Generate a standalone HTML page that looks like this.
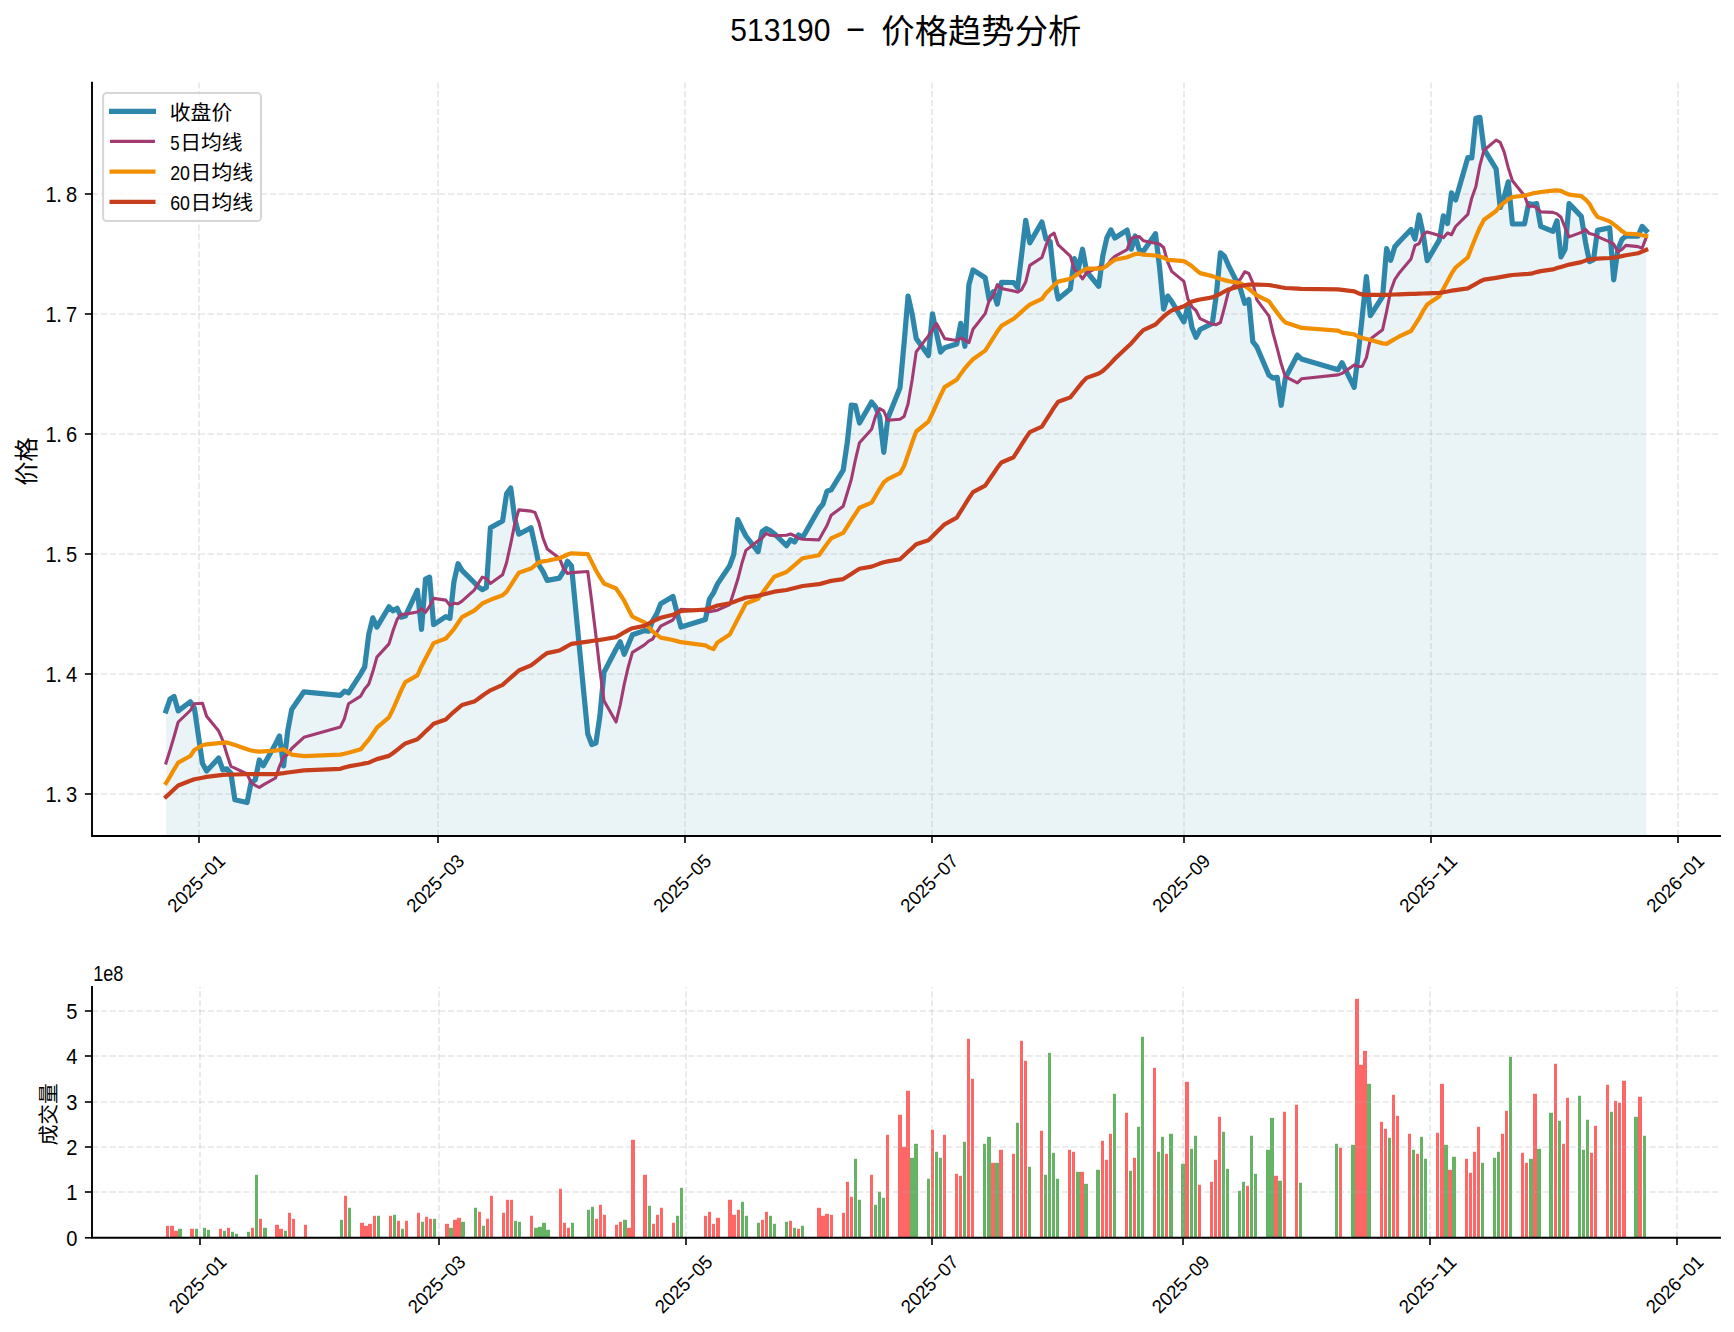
<!DOCTYPE html>
<html lang="zh"><head><meta charset="utf-8"><title>513190 - 价格趋势分析</title>
<style>
html,body{margin:0;padding:0;background:#fff}
svg{display:block}
text{font-family:"Liberation Sans","Noto Sans CJK SC",sans-serif;fill:#000}
.grid line{stroke:#b0b0b0;stroke-opacity:.3;stroke-width:1.67;stroke-dasharray:6.2 2.7;fill:none}
.sp{stroke:#000;stroke-width:1.9;fill:none;stroke-linecap:square}
.tk{stroke:#000;stroke-width:1.6;fill:none}
.ln{fill:none;stroke-linejoin:round;stroke-linecap:square}
.t20{font-size:20.8px}
</style></head><body>
<svg width="1734" height="1332" viewBox="0 0 1734 1332">
<rect width="1734" height="1332" fill="#fff"/>
<polygon points="166.0,710.9 170.1,698.9 174.1,696.6 178.2,710.9 190.3,701.7 194.4,708.2 202.5,763.6 206.6,771.0 218.7,758.1 222.8,769.8 226.8,768.8 230.9,773.3 234.9,799.8 247.1,802.5 251.2,782.0 255.2,780.0 259.3,760.0 263.3,765.7 275.5,744.0 279.5,736.0 283.6,766.0 287.7,731.0 291.7,709.5 303.9,691.8 340.4,695.3 344.4,691.2 348.5,692.9 360.7,673.8 364.7,666.9 368.8,634.0 372.8,617.8 376.9,627.1 389.0,606.8 393.1,610.9 397.2,608.3 401.2,617.2 405.3,616.1 417.4,590.3 421.5,629.4 425.5,579.1 429.6,577.1 433.6,624.7 445.8,616.6 449.9,618.4 453.9,582.0 458.0,563.7 462.0,570.4 474.2,582.5 478.3,586.8 482.3,589.6 486.4,587.5 490.4,527.8 502.6,520.9 506.6,493.7 510.7,487.9 514.8,519.0 518.8,534.2 531.0,527.8 535.0,545.6 539.1,565.4 543.1,571.7 547.2,580.4 559.4,578.1 563.4,571.7 567.5,561.3 571.5,566.0 587.8,734.1 591.8,744.5 595.9,743.1 599.9,716.0 604.0,672.3 616.1,649.0 620.2,641.8 624.2,654.3 628.3,644.5 632.4,634.7 644.5,630.6 648.6,631.2 652.6,620.8 656.7,613.9 660.7,603.7 672.9,596.4 677.0,612.4 681.0,627.0 705.4,619.6 709.4,599.2 713.5,592.9 717.5,583.9 729.7,565.7 733.7,554.7 737.8,519.5 741.9,528.2 745.9,536.0 758.1,551.8 762.1,531.6 766.2,528.7 770.2,530.5 774.3,533.7 786.5,545.7 790.5,539.7 794.6,542.0 798.6,534.9 802.7,537.4 818.9,509.0 823.0,504.0 827.0,491.2 831.1,489.8 843.2,470.2 847.3,442.4 851.3,405.2 855.4,405.7 859.5,423.0 871.6,402.0 875.7,407.2 879.7,417.0 883.8,452.3 887.8,418.2 900.0,387.8 904.1,343.0 908.1,296.0 912.2,314.3 916.2,338.4 928.4,355.6 932.5,313.8 936.5,333.2 940.6,352.1 944.6,347.7 956.8,343.9 960.8,323.3 964.9,346.3 968.9,284.7 973.0,269.9 985.2,277.7 989.2,299.7 993.3,291.6 997.3,304.1 1001.4,282.4 1013.6,282.5 1017.6,287.6 1021.7,254.0 1025.7,220.3 1029.8,242.9 1041.9,222.0 1046.0,239.1 1050.1,241.4 1054.1,279.0 1058.2,299.0 1070.3,289.0 1074.4,258.7 1078.4,268.6 1082.5,249.2 1086.6,271.5 1098.7,286.3 1102.8,255.9 1106.8,238.0 1110.9,229.9 1114.9,238.0 1127.1,230.1 1131.2,249.2 1135.2,235.9 1139.3,250.1 1143.3,251.3 1155.5,233.7 1159.5,266.6 1163.6,309.1 1167.7,296.1 1171.7,301.5 1183.9,321.8 1187.9,305.5 1192.0,327.5 1196.0,337.3 1200.1,329.5 1212.3,323.4 1216.3,295.0 1220.4,252.9 1224.4,256.0 1228.5,265.5 1240.7,289.7 1244.7,303.3 1248.8,299.5 1252.8,341.7 1256.9,346.9 1269.0,375.2 1273.1,378.1 1277.2,377.3 1281.2,405.3 1285.3,378.1 1297.4,355.0 1301.5,359.0 1338.0,369.7 1342.0,362.7 1354.2,387.3 1358.3,353.0 1362.3,316.0 1366.4,276.5 1370.4,315.7 1382.6,296.5 1386.6,248.6 1390.7,260.3 1394.8,246.8 1398.8,242.2 1411.0,229.5 1415.0,239.1 1419.1,215.0 1423.1,233.8 1427.2,260.7 1439.4,239.9 1443.4,215.8 1447.5,223.5 1451.5,192.8 1455.6,200.0 1467.8,157.6 1471.8,158.0 1475.9,118.3 1479.9,117.3 1484.0,149.1 1496.1,168.8 1500.2,207.5 1504.2,196.8 1508.3,181.8 1512.4,224.0 1524.5,224.0 1528.6,203.5 1532.6,204.6 1536.7,203.6 1540.7,226.3 1552.9,231.4 1557.0,220.8 1561.0,256.9 1565.1,249.2 1569.1,203.6 1581.3,216.4 1585.4,241.7 1589.4,261.6 1593.5,259.6 1597.5,230.4 1609.7,227.8 1613.7,279.8 1617.8,249.8 1621.9,239.4 1625.9,236.1 1638.1,236.1 1642.1,226.4 1646.2,230.7 1646.2,836.0 166.0,836.0" fill="#2E86AB" fill-opacity="0.1"/>
<g class="grid">
<line x1="199.0" y1="836.0" x2="199.0" y2="82.8"/>
<line x1="438.0" y1="836.0" x2="438.0" y2="82.8"/>
<line x1="685.0" y1="836.0" x2="685.0" y2="82.8"/>
<line x1="932.0" y1="836.0" x2="932.0" y2="82.8"/>
<line x1="1184.0" y1="836.0" x2="1184.0" y2="82.8"/>
<line x1="1431.0" y1="836.0" x2="1431.0" y2="82.8"/>
<line x1="1678.0" y1="836.0" x2="1678.0" y2="82.8"/>
<line x1="92.0" y1="794" x2="1720.0" y2="794"/>
<line x1="92.0" y1="674" x2="1720.0" y2="674"/>
<line x1="92.0" y1="554" x2="1720.0" y2="554"/>
<line x1="92.0" y1="434" x2="1720.0" y2="434"/>
<line x1="92.0" y1="314" x2="1720.0" y2="314"/>
<line x1="92.0" y1="194" x2="1720.0" y2="194"/>
</g>
<polyline class="ln" points="166.0,710.9 170.1,698.9 174.1,696.6 178.2,710.9 190.3,701.7 194.4,708.2 202.5,763.6 206.6,771.0 218.7,758.1 222.8,769.8 226.8,768.8 230.9,773.3 234.9,799.8 247.1,802.5 251.2,782.0 255.2,780.0 259.3,760.0 263.3,765.7 275.5,744.0 279.5,736.0 283.6,766.0 287.7,731.0 291.7,709.5 303.9,691.8 340.4,695.3 344.4,691.2 348.5,692.9 360.7,673.8 364.7,666.9 368.8,634.0 372.8,617.8 376.9,627.1 389.0,606.8 393.1,610.9 397.2,608.3 401.2,617.2 405.3,616.1 417.4,590.3 421.5,629.4 425.5,579.1 429.6,577.1 433.6,624.7 445.8,616.6 449.9,618.4 453.9,582.0 458.0,563.7 462.0,570.4 474.2,582.5 478.3,586.8 482.3,589.6 486.4,587.5 490.4,527.8 502.6,520.9 506.6,493.7 510.7,487.9 514.8,519.0 518.8,534.2 531.0,527.8 535.0,545.6 539.1,565.4 543.1,571.7 547.2,580.4 559.4,578.1 563.4,571.7 567.5,561.3 571.5,566.0 587.8,734.1 591.8,744.5 595.9,743.1 599.9,716.0 604.0,672.3 616.1,649.0 620.2,641.8 624.2,654.3 628.3,644.5 632.4,634.7 644.5,630.6 648.6,631.2 652.6,620.8 656.7,613.9 660.7,603.7 672.9,596.4 677.0,612.4 681.0,627.0 705.4,619.6 709.4,599.2 713.5,592.9 717.5,583.9 729.7,565.7 733.7,554.7 737.8,519.5 741.9,528.2 745.9,536.0 758.1,551.8 762.1,531.6 766.2,528.7 770.2,530.5 774.3,533.7 786.5,545.7 790.5,539.7 794.6,542.0 798.6,534.9 802.7,537.4 818.9,509.0 823.0,504.0 827.0,491.2 831.1,489.8 843.2,470.2 847.3,442.4 851.3,405.2 855.4,405.7 859.5,423.0 871.6,402.0 875.7,407.2 879.7,417.0 883.8,452.3 887.8,418.2 900.0,387.8 904.1,343.0 908.1,296.0 912.2,314.3 916.2,338.4 928.4,355.6 932.5,313.8 936.5,333.2 940.6,352.1 944.6,347.7 956.8,343.9 960.8,323.3 964.9,346.3 968.9,284.7 973.0,269.9 985.2,277.7 989.2,299.7 993.3,291.6 997.3,304.1 1001.4,282.4 1013.6,282.5 1017.6,287.6 1021.7,254.0 1025.7,220.3 1029.8,242.9 1041.9,222.0 1046.0,239.1 1050.1,241.4 1054.1,279.0 1058.2,299.0 1070.3,289.0 1074.4,258.7 1078.4,268.6 1082.5,249.2 1086.6,271.5 1098.7,286.3 1102.8,255.9 1106.8,238.0 1110.9,229.9 1114.9,238.0 1127.1,230.1 1131.2,249.2 1135.2,235.9 1139.3,250.1 1143.3,251.3 1155.5,233.7 1159.5,266.6 1163.6,309.1 1167.7,296.1 1171.7,301.5 1183.9,321.8 1187.9,305.5 1192.0,327.5 1196.0,337.3 1200.1,329.5 1212.3,323.4 1216.3,295.0 1220.4,252.9 1224.4,256.0 1228.5,265.5 1240.7,289.7 1244.7,303.3 1248.8,299.5 1252.8,341.7 1256.9,346.9 1269.0,375.2 1273.1,378.1 1277.2,377.3 1281.2,405.3 1285.3,378.1 1297.4,355.0 1301.5,359.0 1338.0,369.7 1342.0,362.7 1354.2,387.3 1358.3,353.0 1362.3,316.0 1366.4,276.5 1370.4,315.7 1382.6,296.5 1386.6,248.6 1390.7,260.3 1394.8,246.8 1398.8,242.2 1411.0,229.5 1415.0,239.1 1419.1,215.0 1423.1,233.8 1427.2,260.7 1439.4,239.9 1443.4,215.8 1447.5,223.5 1451.5,192.8 1455.6,200.0 1467.8,157.6 1471.8,158.0 1475.9,118.3 1479.9,117.3 1484.0,149.1 1496.1,168.8 1500.2,207.5 1504.2,196.8 1508.3,181.8 1512.4,224.0 1524.5,224.0 1528.6,203.5 1532.6,204.6 1536.7,203.6 1540.7,226.3 1552.9,231.4 1557.0,220.8 1561.0,256.9 1565.1,249.2 1569.1,203.6 1581.3,216.4 1585.4,241.7 1589.4,261.6 1593.5,259.6 1597.5,230.4 1609.7,227.8 1613.7,279.8 1617.8,249.8 1621.9,239.4 1625.9,236.1 1638.1,236.1 1642.1,226.4 1646.2,230.7" stroke="#2E86AB" stroke-width="5.2"/>
<polyline class="ln" points="166.0,763.0 170.1,750.0 174.1,736.5 178.2,722.0 190.3,710.5 194.4,703.8 202.5,703.3 206.6,716.2 218.7,731.1 222.8,740.5 226.8,754.1 230.9,766.3 234.9,768.2 247.1,774.0 251.2,782.8 255.2,785.3 259.3,787.5 263.3,784.9 275.5,778.0 279.5,766.3 283.6,757.1 287.7,754.3 291.7,748.5 303.9,737.3 340.4,726.9 344.4,718.7 348.5,703.8 360.7,696.1 364.7,689.0 368.8,684.0 372.8,671.8 376.9,657.1 389.0,643.9 393.1,630.5 397.2,619.3 401.2,614.2 405.3,614.1 417.4,611.9 421.5,608.6 425.5,612.3 429.6,606.4 433.6,598.4 445.8,600.1 449.9,605.4 453.9,603.2 458.0,603.8 462.0,601.1 474.2,590.2 478.3,583.4 482.3,577.1 486.4,578.6 490.4,583.4 502.6,574.8 506.6,562.5 510.7,543.9 514.8,523.6 518.8,509.9 531.0,511.1 535.0,512.5 539.1,522.9 543.1,538.4 547.2,548.9 559.4,558.2 563.4,568.2 567.5,573.5 571.5,572.6 587.8,571.5 591.8,602.2 595.9,635.5 599.9,669.8 604.0,700.7 616.1,722.0 620.2,705.0 624.2,684.4 628.3,666.7 632.4,652.4 644.5,644.9 648.6,641.2 652.6,639.1 656.7,632.4 660.7,626.2 672.9,620.0 677.0,613.2 681.0,609.4 705.4,610.7 709.4,611.8 713.5,610.9 717.5,610.2 729.7,604.5 733.7,592.3 737.8,579.3 741.9,563.3 745.9,550.4 758.1,540.8 762.1,538.0 766.2,533.4 770.2,535.3 774.3,535.7 786.5,535.3 790.5,534.0 794.6,535.7 798.6,538.3 802.7,539.2 818.9,539.9 823.0,532.6 827.0,525.5 831.1,515.3 843.2,506.3 847.3,492.8 851.3,479.5 855.4,459.8 859.5,442.7 871.6,429.3 875.7,415.7 879.7,408.6 883.8,411.0 887.8,420.3 900.0,419.3 904.1,416.5 908.1,403.7 912.2,379.5 916.2,351.9 928.4,335.9 932.5,329.5 936.5,323.6 940.6,331.1 944.6,338.6 956.8,340.5 960.8,338.1 964.9,340.0 968.9,342.7 973.0,329.2 985.2,313.6 989.2,300.4 993.3,295.7 997.3,284.7 1001.4,288.6 1013.6,291.1 1017.6,292.1 1021.7,289.6 1025.7,282.1 1029.8,265.4 1041.9,257.5 1046.0,245.4 1050.1,235.7 1054.1,233.1 1058.2,244.9 1070.3,256.1 1074.4,269.5 1078.4,273.4 1082.5,278.9 1086.6,272.9 1098.7,267.4 1102.8,266.9 1106.8,266.3 1110.9,260.2 1114.9,256.3 1127.1,249.6 1131.2,238.4 1135.2,237.0 1139.3,236.6 1143.3,240.7 1155.5,243.3 1159.5,244.0 1163.6,247.5 1167.7,262.2 1171.7,271.4 1183.9,281.4 1187.9,299.0 1192.0,306.8 1196.0,310.5 1200.1,318.7 1212.3,324.3 1216.3,324.6 1220.4,322.5 1224.4,307.6 1228.5,291.4 1240.7,278.6 1244.7,271.8 1248.8,273.5 1252.8,282.8 1256.9,299.9 1269.0,316.2 1273.1,333.3 1277.2,348.3 1281.2,363.8 1285.3,376.6 1297.4,382.8 1301.5,378.8 1338.0,374.9 1342.0,373.4 1354.2,364.9 1358.3,366.7 1362.3,366.3 1366.4,357.7 1370.4,339.1 1382.6,329.7 1386.6,311.5 1390.7,290.7 1394.8,279.5 1398.8,273.6 1411.0,258.9 1415.0,245.5 1419.1,243.6 1423.1,234.5 1427.2,231.9 1439.4,235.6 1443.4,237.7 1447.5,233.0 1451.5,234.7 1455.6,226.5 1467.8,214.4 1471.8,197.9 1475.9,186.4 1479.9,165.3 1484.0,150.2 1496.1,140.1 1500.2,142.3 1504.2,152.2 1508.3,167.9 1512.4,180.8 1524.5,195.8 1528.6,206.8 1532.6,206.0 1536.7,207.6 1540.7,211.9 1552.9,212.4 1557.0,213.9 1561.0,217.3 1565.1,227.8 1569.1,236.9 1581.3,232.4 1585.4,229.4 1589.4,233.6 1593.5,234.5 1597.5,236.6 1609.7,241.9 1613.7,244.2 1617.8,251.8 1621.9,249.5 1625.9,245.4 1638.1,246.6 1642.1,248.2 1646.2,237.6" stroke="#A23B72" stroke-width="3.1"/>
<polyline class="ln" points="166.0,783.1 170.1,776.4 174.1,769.3 178.2,762.7 190.3,756.0 194.4,750.0 202.5,745.2 206.6,744.3 218.7,743.2 222.8,742.8 226.8,742.4 230.9,743.8 234.9,745.1 247.1,749.2 251.2,750.5 255.2,751.1 259.3,751.6 263.3,751.4 275.5,750.6 279.5,750.0 283.6,749.3 287.7,751.9 291.7,754.6 303.9,756.2 340.4,754.6 344.4,753.8 348.5,752.8 360.7,749.3 364.7,744.4 368.8,739.6 372.8,733.7 376.9,727.7 389.0,717.4 393.1,709.0 397.2,699.6 401.2,690.3 405.3,682.1 417.4,675.3 421.5,666.2 425.5,658.5 429.6,650.7 433.6,643.1 445.8,638.5 449.9,633.9 453.9,629.2 458.0,623.0 462.0,617.1 474.2,610.7 478.3,607.1 482.3,603.5 486.4,601.6 490.4,599.8 502.6,595.2 506.6,591.6 510.7,585.3 514.8,578.9 518.8,572.8 531.0,568.6 535.0,565.4 539.1,562.1 543.1,561.4 547.2,560.7 559.4,558.2 563.4,556.5 567.5,554.5 571.5,553.3 587.8,554.1 591.8,562.1 595.9,570.2 599.9,577.2 604.0,583.5 616.1,588.5 620.2,594.5 624.2,600.7 628.3,609.0 632.4,616.7 644.5,622.4 648.6,626.9 652.6,631.4 656.7,634.6 660.7,637.6 672.9,640.0 677.0,641.1 681.0,642.2 705.4,645.3 709.4,647.6 713.5,649.1 717.5,642.4 729.7,634.6 733.7,626.9 737.8,619.1 741.9,611.3 745.9,603.5 758.1,598.7 762.1,593.2 766.2,587.7 770.2,582.2 774.3,576.7 786.5,572.0 790.5,568.6 794.6,565.1 798.6,561.6 802.7,558.2 818.9,555.2 823.0,549.5 827.0,543.9 831.1,538.4 843.2,532.8 847.3,526.5 851.3,520.2 855.4,513.9 859.5,507.7 871.6,502.6 875.7,495.7 879.7,488.8 883.8,482.4 887.8,479.1 900.0,473.2 904.1,466.0 908.1,454.4 912.2,442.3 916.2,431.5 928.4,421.6 932.5,413.2 936.5,404.2 940.6,395.2 944.6,387.1 956.8,379.6 960.8,373.9 964.9,368.3 968.9,363.6 973.0,359.3 985.2,350.6 989.2,344.3 993.3,337.9 997.3,331.6 1001.4,325.9 1013.6,318.8 1017.6,315.3 1021.7,311.6 1025.7,308.0 1029.8,304.7 1041.9,298.9 1046.0,293.3 1050.1,289.2 1054.1,285.1 1058.2,281.6 1070.3,278.7 1074.4,276.2 1078.4,273.5 1082.5,270.8 1086.6,268.6 1098.7,268.6 1102.8,268.2 1106.8,265.7 1110.9,262.5 1114.9,259.8 1127.1,257.3 1131.2,255.6 1135.2,254.0 1139.3,253.7 1143.3,254.7 1155.5,255.5 1159.5,256.4 1163.6,257.7 1167.7,259.9 1171.7,260.1 1183.9,261.1 1187.9,263.5 1192.0,266.2 1196.0,269.9 1200.1,273.1 1212.3,276.1 1216.3,277.6 1220.4,278.9 1224.4,280.1 1228.5,281.1 1240.7,283.2 1244.7,285.9 1248.8,288.6 1252.8,292.2 1256.9,295.3 1269.0,301.4 1273.1,307.2 1277.2,312.8 1281.2,318.1 1285.3,322.4 1297.4,326.5 1301.5,327.9 1338.0,330.7 1342.0,332.6 1354.2,334.4 1358.3,336.8 1362.3,337.9 1366.4,339.0 1370.4,340.1 1382.6,343.4 1386.6,343.9 1390.7,341.4 1394.8,339.0 1398.8,336.7 1411.0,331.0 1415.0,324.9 1419.1,318.4 1423.1,310.9 1427.2,304.6 1439.4,296.3 1443.4,288.8 1447.5,281.2 1451.5,273.7 1455.6,267.5 1467.8,257.4 1471.8,247.0 1475.9,236.8 1479.9,227.4 1484.0,219.8 1496.1,211.0 1500.2,205.7 1504.2,202.6 1508.3,199.4 1512.4,197.0 1524.5,195.7 1528.6,194.5 1532.6,193.4 1536.7,192.7 1540.7,192.0 1552.9,190.6 1557.0,190.4 1561.0,190.9 1565.1,193.0 1569.1,194.6 1581.3,196.1 1585.4,199.3 1589.4,203.7 1593.5,211.3 1597.5,216.9 1609.7,221.4 1613.7,224.4 1617.8,227.5 1621.9,231.1 1625.9,233.7 1638.1,234.4 1642.1,235.2 1646.2,235.9" stroke="#F18F01" stroke-width="4.2"/>
<polyline class="ln" points="166.0,796.8 170.1,793.1 174.1,789.3 178.2,785.5 190.3,780.7 194.4,779.2 202.5,777.7 206.6,776.9 218.7,775.4 222.8,774.9 226.8,774.7 230.9,774.6 234.9,774.5 247.1,774.1 251.2,774.1 255.2,774.1 259.3,774.1 263.3,774.1 275.5,774.1 279.5,773.6 283.6,773.1 287.7,772.5 291.7,772.0 303.9,770.4 340.4,768.8 344.4,767.6 348.5,766.4 360.7,764.2 364.7,763.4 368.8,762.7 372.8,760.9 376.9,759.1 389.0,755.9 393.1,753.0 397.2,749.8 401.2,746.6 405.3,743.4 417.4,739.3 421.5,735.4 425.5,731.6 429.6,727.7 433.6,723.8 445.8,719.5 449.9,715.5 453.9,711.8 458.0,708.4 462.0,705.0 474.2,701.6 478.3,698.7 482.3,695.8 486.4,692.9 490.4,690.3 502.6,684.9 506.6,681.3 510.7,677.7 514.8,674.1 518.8,670.5 531.0,665.4 535.0,662.3 539.1,659.1 543.1,655.9 547.2,653.1 559.4,650.5 563.4,648.3 567.5,646.0 571.5,643.9 587.8,641.6 591.8,641.0 595.9,640.4 599.9,639.9 604.0,639.2 616.1,637.1 620.2,634.7 624.2,632.3 628.3,630.1 632.4,628.2 644.5,625.9 648.6,623.6 652.6,621.3 656.7,619.5 660.7,617.8 672.9,614.8 677.0,612.8 681.0,611.0 705.4,609.7 709.4,608.3 713.5,606.9 717.5,605.5 729.7,603.3 733.7,601.9 737.8,600.4 741.9,599.0 745.9,597.5 758.1,595.8 762.1,594.8 766.2,593.8 770.2,592.7 774.3,591.7 786.5,590.0 790.5,589.0 794.6,588.0 798.6,587.0 802.7,586.0 818.9,584.2 823.0,583.1 827.0,582.0 831.1,580.9 843.2,579.1 847.3,576.5 851.3,573.9 855.4,571.3 859.5,568.7 871.6,566.6 875.7,565.1 879.7,563.6 883.8,562.2 887.8,561.4 900.0,559.2 904.1,555.5 908.1,551.8 912.2,548.1 916.2,544.3 928.4,540.3 932.5,536.3 936.5,532.2 940.6,528.2 944.6,524.3 956.8,517.7 960.8,511.2 964.9,504.7 968.9,498.2 973.0,492.1 985.2,485.6 989.2,479.7 993.3,473.8 997.3,467.8 1001.4,462.5 1013.6,457.2 1017.6,450.8 1021.7,444.4 1025.7,438.1 1029.8,432.1 1041.9,426.6 1046.0,420.2 1050.1,413.8 1054.1,407.4 1058.2,401.8 1070.3,397.4 1074.4,392.3 1078.4,387.2 1082.5,382.1 1086.6,377.9 1098.7,373.5 1102.8,370.9 1106.8,367.3 1110.9,363.1 1114.9,358.8 1127.1,347.3 1131.2,343.4 1135.2,338.8 1139.3,334.2 1143.3,330.1 1155.5,324.5 1159.5,320.5 1163.6,316.5 1167.7,313.2 1171.7,310.4 1183.9,306.3 1187.9,303.8 1192.0,301.5 1196.0,300.4 1200.1,299.5 1212.3,297.4 1216.3,295.7 1220.4,293.8 1224.4,291.5 1228.5,289.4 1240.7,286.0 1244.7,285.2 1248.8,284.5 1252.8,284.6 1256.9,284.6 1269.0,285.0 1273.1,285.8 1277.2,286.5 1281.2,287.3 1285.3,288.0 1297.4,288.6 1301.5,288.8 1338.0,289.3 1342.0,289.8 1354.2,291.4 1358.3,293.2 1362.3,294.6 1366.4,294.8 1370.4,294.9 1382.6,294.8 1386.6,294.8 1390.7,294.6 1394.8,294.5 1398.8,294.3 1411.0,293.9 1415.0,293.8 1419.1,293.6 1423.1,293.5 1427.2,293.4 1439.4,292.9 1443.4,292.2 1447.5,291.5 1451.5,290.7 1455.6,290.1 1467.8,288.4 1471.8,286.1 1475.9,283.8 1479.9,281.5 1484.0,279.6 1496.1,277.8 1500.2,277.1 1504.2,276.4 1508.3,275.6 1512.4,275.0 1524.5,274.1 1528.6,273.8 1532.6,273.3 1536.7,272.1 1540.7,271.1 1552.9,269.4 1557.0,268.1 1561.0,266.9 1565.1,265.7 1569.1,264.6 1581.3,262.1 1585.4,260.6 1589.4,259.5 1593.5,259.1 1597.5,258.7 1609.7,258.0 1613.7,257.6 1617.8,257.0 1621.9,256.1 1625.9,255.3 1638.1,253.3 1642.1,251.6 1646.2,249.8" stroke="#C73E1D" stroke-width="4.2"/>
<path class="sp" d="M92.0,82.8 V836.0 H1720.0"/>
<line class="tk" x1="199.0" y1="836.0" x2="199.0" y2="843.0"/>
<text transform="translate(195.7,883.5) rotate(-45)" style="font-size:19px"><tspan x="-35.6" y="6.8" textLength="41.2" lengthAdjust="spacingAndGlyphs">2025</tspan><tspan x="5.6" y="5.3" textLength="11" lengthAdjust="spacingAndGlyphs">-</tspan><tspan x="16.4" y="6.8" textLength="20.4" lengthAdjust="spacingAndGlyphs">01</tspan></text>
<line class="tk" x1="438.0" y1="836.0" x2="438.0" y2="843.0"/>
<text transform="translate(434.7,883.5) rotate(-45)" style="font-size:19px"><tspan x="-35.6" y="6.8" textLength="41.2" lengthAdjust="spacingAndGlyphs">2025</tspan><tspan x="5.6" y="5.3" textLength="11" lengthAdjust="spacingAndGlyphs">-</tspan><tspan x="16.4" y="6.8" textLength="20.4" lengthAdjust="spacingAndGlyphs">03</tspan></text>
<line class="tk" x1="685.0" y1="836.0" x2="685.0" y2="843.0"/>
<text transform="translate(681.7,883.5) rotate(-45)" style="font-size:19px"><tspan x="-35.6" y="6.8" textLength="41.2" lengthAdjust="spacingAndGlyphs">2025</tspan><tspan x="5.6" y="5.3" textLength="11" lengthAdjust="spacingAndGlyphs">-</tspan><tspan x="16.4" y="6.8" textLength="20.4" lengthAdjust="spacingAndGlyphs">05</tspan></text>
<line class="tk" x1="932.0" y1="836.0" x2="932.0" y2="843.0"/>
<text transform="translate(928.7,883.5) rotate(-45)" style="font-size:19px"><tspan x="-35.6" y="6.8" textLength="41.2" lengthAdjust="spacingAndGlyphs">2025</tspan><tspan x="5.6" y="5.3" textLength="11" lengthAdjust="spacingAndGlyphs">-</tspan><tspan x="16.4" y="6.8" textLength="20.4" lengthAdjust="spacingAndGlyphs">07</tspan></text>
<line class="tk" x1="1184.0" y1="836.0" x2="1184.0" y2="843.0"/>
<text transform="translate(1180.7,883.5) rotate(-45)" style="font-size:19px"><tspan x="-35.6" y="6.8" textLength="41.2" lengthAdjust="spacingAndGlyphs">2025</tspan><tspan x="5.6" y="5.3" textLength="11" lengthAdjust="spacingAndGlyphs">-</tspan><tspan x="16.4" y="6.8" textLength="20.4" lengthAdjust="spacingAndGlyphs">09</tspan></text>
<line class="tk" x1="1431.0" y1="836.0" x2="1431.0" y2="843.0"/>
<text transform="translate(1427.7,883.5) rotate(-45)" style="font-size:19px"><tspan x="-35.6" y="6.8" textLength="41.2" lengthAdjust="spacingAndGlyphs">2025</tspan><tspan x="5.6" y="5.3" textLength="11" lengthAdjust="spacingAndGlyphs">-</tspan><tspan x="16.4" y="6.8" textLength="20.4" lengthAdjust="spacingAndGlyphs">11</tspan></text>
<line class="tk" x1="1678.0" y1="836.0" x2="1678.0" y2="843.0"/>
<text transform="translate(1674.7,883.5) rotate(-45)" style="font-size:19px"><tspan x="-35.6" y="6.8" textLength="41.2" lengthAdjust="spacingAndGlyphs">2026</tspan><tspan x="5.6" y="5.3" textLength="11" lengthAdjust="spacingAndGlyphs">-</tspan><tspan x="16.4" y="6.8" textLength="20.4" lengthAdjust="spacingAndGlyphs">01</tspan></text>
<line class="tk" x1="84.9" y1="794" x2="92.0" y2="794"/>
<text style="font-size:22px" y="802.1"><tspan x="45.6" textLength="11.2" lengthAdjust="spacingAndGlyphs">1</tspan><tspan x="56.0">.</tspan><tspan x="66.0" textLength="11.2" lengthAdjust="spacingAndGlyphs">3</tspan></text>
<line class="tk" x1="84.9" y1="674" x2="92.0" y2="674"/>
<text style="font-size:22px" y="682.1"><tspan x="45.6" textLength="11.2" lengthAdjust="spacingAndGlyphs">1</tspan><tspan x="56.0">.</tspan><tspan x="66.0" textLength="11.2" lengthAdjust="spacingAndGlyphs">4</tspan></text>
<line class="tk" x1="84.9" y1="554" x2="92.0" y2="554"/>
<text style="font-size:22px" y="562.1"><tspan x="45.6" textLength="11.2" lengthAdjust="spacingAndGlyphs">1</tspan><tspan x="56.0">.</tspan><tspan x="66.0" textLength="11.2" lengthAdjust="spacingAndGlyphs">5</tspan></text>
<line class="tk" x1="84.9" y1="434" x2="92.0" y2="434"/>
<text style="font-size:22px" y="442.1"><tspan x="45.6" textLength="11.2" lengthAdjust="spacingAndGlyphs">1</tspan><tspan x="56.0">.</tspan><tspan x="66.0" textLength="11.2" lengthAdjust="spacingAndGlyphs">6</tspan></text>
<line class="tk" x1="84.9" y1="314" x2="92.0" y2="314"/>
<text style="font-size:22px" y="322.1"><tspan x="45.6" textLength="11.2" lengthAdjust="spacingAndGlyphs">1</tspan><tspan x="56.0">.</tspan><tspan x="66.0" textLength="11.2" lengthAdjust="spacingAndGlyphs">7</tspan></text>
<line class="tk" x1="84.9" y1="194" x2="92.0" y2="194"/>
<text style="font-size:22px" y="202.1"><tspan x="45.6" textLength="11.2" lengthAdjust="spacingAndGlyphs">1</tspan><tspan x="56.0">.</tspan><tspan x="66.0" textLength="11.2" lengthAdjust="spacingAndGlyphs">8</tspan></text>
<text transform="translate(26.2,461.4) rotate(-90)" text-anchor="middle" y="9" style="font-size:24.3px">价格</text>
<text y="43" style="font-size:33.3px"><tspan x="730.2" y="41.3" style="font-size:31.7px" textLength="100.4" lengthAdjust="spacingAndGlyphs">513190</tspan> <tspan x="844.7" y="38.8" textLength="21.6" lengthAdjust="spacingAndGlyphs">-</tspan> <tspan x="881.3" y="43" textLength="200" lengthAdjust="spacingAndGlyphs">价格趋势分析</tspan></text>
<rect x="103.1" y="93.1" width="157.9" height="127.9" rx="3.6" ry="3.6" fill="#fff" fill-opacity="0.8" stroke="#ccc" stroke-opacity="0.8" stroke-width="2"/>
<line x1="111.6" y1="111.3" x2="153.4" y2="111.3" stroke="#2E86AB" stroke-width="5.2" stroke-linecap="square"/>
<text class="t20" x="169.8" y="119.6" textLength="62.4" lengthAdjust="spacingAndGlyphs">收盘价</text>
<line x1="111.6" y1="141.4" x2="153.4" y2="141.4" stroke="#A23B72" stroke-width="3.1" stroke-linecap="square"/>
<text class="t20" y="149.7"><tspan x="170.2" textLength="9.4" lengthAdjust="spacingAndGlyphs">5</tspan><tspan x="180.2" textLength="62.4" lengthAdjust="spacingAndGlyphs">日均线</tspan></text>
<line x1="111.6" y1="171.7" x2="153.4" y2="171.7" stroke="#F18F01" stroke-width="4.2" stroke-linecap="square"/>
<text class="t20" y="180.0"><tspan x="170.2" textLength="19.8" lengthAdjust="spacingAndGlyphs">20</tspan><tspan x="190.6" textLength="62.4" lengthAdjust="spacingAndGlyphs">日均线</tspan></text>
<line x1="111.6" y1="201.8" x2="153.4" y2="201.8" stroke="#C73E1D" stroke-width="4.2" stroke-linecap="square"/>
<text class="t20" y="210.1"><tspan x="170.2" textLength="19.8" lengthAdjust="spacingAndGlyphs">60</tspan><tspan x="190.6" textLength="62.4" lengthAdjust="spacingAndGlyphs">日均线</tspan></text>
<rect x="166" y="1225.8" width="3" height="12" fill="#FF6666"/>
<rect x="170" y="1225.8" width="4" height="12" fill="#FF6666"/>
<rect x="174" y="1230.8" width="4" height="7" fill="#FF6666"/>
<rect x="178" y="1228.8" width="4" height="9" fill="#66B366"/>
<rect x="190" y="1228.8" width="4" height="9" fill="#FF6666"/>
<rect x="195" y="1228.8" width="3" height="9" fill="#66B366"/>
<rect x="203" y="1227.8" width="3" height="10" fill="#66B366"/>
<rect x="207" y="1229.8" width="3" height="8" fill="#66B366"/>
<rect x="219" y="1228.8" width="3" height="9" fill="#FF6666"/>
<rect x="223" y="1230.8" width="3" height="7" fill="#66B366"/>
<rect x="227" y="1227.8" width="3" height="10" fill="#FF6666"/>
<rect x="231" y="1231.8" width="3" height="6" fill="#66B366"/>
<rect x="235" y="1233.8" width="3" height="4" fill="#66B366"/>
<rect x="247" y="1231.8" width="3" height="6" fill="#66B366"/>
<rect x="251" y="1227.8" width="3" height="10" fill="#FF6666"/>
<rect x="255" y="1174.8" width="3" height="63" fill="#66B366"/>
<rect x="259" y="1218.8" width="3" height="19" fill="#FF6666"/>
<rect x="263" y="1227.8" width="4" height="10" fill="#66B366"/>
<rect x="275" y="1224.8" width="4" height="13" fill="#FF6666"/>
<rect x="279" y="1228.8" width="4" height="9" fill="#FF6666"/>
<rect x="284" y="1230.8" width="3" height="7" fill="#66B366"/>
<rect x="288" y="1212.8" width="3" height="25" fill="#FF6666"/>
<rect x="292" y="1218.8" width="3" height="19" fill="#FF6666"/>
<rect x="304" y="1224.8" width="3" height="13" fill="#FF6666"/>
<rect x="340" y="1219.8" width="3" height="18" fill="#66B366"/>
<rect x="344" y="1195.8" width="3" height="42" fill="#FF6666"/>
<rect x="348" y="1207.8" width="3" height="30" fill="#66B366"/>
<rect x="360" y="1222.8" width="4" height="15" fill="#FF6666"/>
<rect x="364" y="1225.8" width="4" height="12" fill="#FF6666"/>
<rect x="368" y="1223.8" width="4" height="14" fill="#FF6666"/>
<rect x="373" y="1215.8" width="3" height="22" fill="#FF6666"/>
<rect x="377" y="1215.8" width="3" height="22" fill="#66B366"/>
<rect x="389" y="1215.8" width="3" height="22" fill="#FF6666"/>
<rect x="393" y="1214.8" width="3" height="23" fill="#66B366"/>
<rect x="397" y="1220.8" width="3" height="17" fill="#FF6666"/>
<rect x="401" y="1228.8" width="3" height="9" fill="#66B366"/>
<rect x="405" y="1220.8" width="3" height="17" fill="#FF6666"/>
<rect x="417" y="1212.8" width="3" height="25" fill="#FF6666"/>
<rect x="421" y="1221.8" width="3" height="16" fill="#66B366"/>
<rect x="425" y="1216.8" width="3" height="21" fill="#FF6666"/>
<rect x="429" y="1218.8" width="3" height="19" fill="#FF6666"/>
<rect x="433" y="1218.8" width="3" height="19" fill="#66B366"/>
<rect x="445" y="1223.8" width="4" height="14" fill="#FF6666"/>
<rect x="449" y="1227.8" width="4" height="10" fill="#66B366"/>
<rect x="453" y="1219.8" width="4" height="18" fill="#FF6666"/>
<rect x="457" y="1217.8" width="4" height="20" fill="#FF6666"/>
<rect x="461" y="1221.8" width="4" height="16" fill="#66B366"/>
<rect x="474" y="1207.8" width="3" height="30" fill="#66B366"/>
<rect x="478" y="1211.8" width="3" height="26" fill="#FF6666"/>
<rect x="482" y="1225.8" width="3" height="12" fill="#66B366"/>
<rect x="486" y="1218.8" width="3" height="19" fill="#FF6666"/>
<rect x="490" y="1195.8" width="3" height="42" fill="#FF6666"/>
<rect x="502" y="1212.8" width="3" height="25" fill="#FF6666"/>
<rect x="506" y="1199.8" width="3" height="38" fill="#FF6666"/>
<rect x="510" y="1199.8" width="3" height="38" fill="#FF6666"/>
<rect x="514" y="1220.8" width="3" height="17" fill="#66B366"/>
<rect x="518" y="1221.8" width="3" height="16" fill="#66B366"/>
<rect x="530" y="1215.8" width="3" height="22" fill="#FF6666"/>
<rect x="534" y="1227.8" width="4" height="10" fill="#66B366"/>
<rect x="538" y="1226.8" width="4" height="11" fill="#66B366"/>
<rect x="542" y="1222.8" width="4" height="15" fill="#66B366"/>
<rect x="546" y="1229.8" width="4" height="8" fill="#66B366"/>
<rect x="559" y="1188.8" width="3" height="49" fill="#FF6666"/>
<rect x="563" y="1222.8" width="3" height="15" fill="#FF6666"/>
<rect x="567" y="1227.8" width="3" height="10" fill="#FF6666"/>
<rect x="571" y="1222.8" width="3" height="15" fill="#66B366"/>
<rect x="587" y="1209.8" width="3" height="28" fill="#66B366"/>
<rect x="591" y="1206.8" width="3" height="31" fill="#66B366"/>
<rect x="595" y="1218.8" width="3" height="19" fill="#FF6666"/>
<rect x="599" y="1204.8" width="3" height="33" fill="#FF6666"/>
<rect x="603" y="1214.8" width="3" height="23" fill="#FF6666"/>
<rect x="615" y="1224.8" width="3" height="13" fill="#FF6666"/>
<rect x="619" y="1221.8" width="3" height="16" fill="#FF6666"/>
<rect x="623" y="1219.8" width="4" height="18" fill="#66B366"/>
<rect x="627" y="1227.8" width="4" height="10" fill="#FF6666"/>
<rect x="631" y="1139.8" width="4" height="98" fill="#FF6666"/>
<rect x="643" y="1174.8" width="4" height="63" fill="#FF6666"/>
<rect x="648" y="1205.8" width="3" height="32" fill="#66B366"/>
<rect x="652" y="1223.8" width="3" height="14" fill="#FF6666"/>
<rect x="656" y="1214.8" width="3" height="23" fill="#FF6666"/>
<rect x="660" y="1207.8" width="3" height="30" fill="#FF6666"/>
<rect x="672" y="1222.8" width="3" height="15" fill="#FF6666"/>
<rect x="676" y="1215.8" width="3" height="22" fill="#66B366"/>
<rect x="680" y="1187.8" width="3" height="50" fill="#66B366"/>
<rect x="704" y="1215.8" width="3" height="22" fill="#FF6666"/>
<rect x="708" y="1211.8" width="3" height="26" fill="#FF6666"/>
<rect x="712" y="1223.8" width="3" height="14" fill="#FF6666"/>
<rect x="716" y="1217.8" width="4" height="20" fill="#FF6666"/>
<rect x="728" y="1199.8" width="4" height="38" fill="#FF6666"/>
<rect x="732" y="1214.8" width="4" height="23" fill="#FF6666"/>
<rect x="737" y="1209.8" width="3" height="28" fill="#FF6666"/>
<rect x="741" y="1201.8" width="3" height="36" fill="#66B366"/>
<rect x="745" y="1215.8" width="3" height="22" fill="#66B366"/>
<rect x="757" y="1222.8" width="3" height="15" fill="#66B366"/>
<rect x="761" y="1219.8" width="3" height="18" fill="#FF6666"/>
<rect x="765" y="1211.8" width="3" height="26" fill="#FF6666"/>
<rect x="769" y="1215.8" width="3" height="22" fill="#66B366"/>
<rect x="773" y="1223.8" width="3" height="14" fill="#66B366"/>
<rect x="785" y="1221.8" width="3" height="16" fill="#66B366"/>
<rect x="789" y="1220.8" width="3" height="17" fill="#FF6666"/>
<rect x="793" y="1227.8" width="3" height="10" fill="#66B366"/>
<rect x="797" y="1228.8" width="3" height="9" fill="#FF6666"/>
<rect x="801" y="1225.8" width="3" height="12" fill="#66B366"/>
<rect x="817" y="1207.8" width="4" height="30" fill="#FF6666"/>
<rect x="821" y="1215.8" width="4" height="22" fill="#FF6666"/>
<rect x="825" y="1213.8" width="4" height="24" fill="#FF6666"/>
<rect x="830" y="1214.8" width="3" height="23" fill="#FF6666"/>
<rect x="842" y="1212.8" width="3" height="25" fill="#FF6666"/>
<rect x="846" y="1181.8" width="3" height="56" fill="#FF6666"/>
<rect x="850" y="1196.8" width="3" height="41" fill="#FF6666"/>
<rect x="854" y="1158.8" width="3" height="79" fill="#66B366"/>
<rect x="858" y="1199.8" width="3" height="38" fill="#66B366"/>
<rect x="870" y="1174.8" width="3" height="63" fill="#FF6666"/>
<rect x="874" y="1204.8" width="3" height="33" fill="#66B366"/>
<rect x="878" y="1191.8" width="3" height="46" fill="#66B366"/>
<rect x="882" y="1197.8" width="3" height="40" fill="#66B366"/>
<rect x="886" y="1134.8" width="3" height="103" fill="#FF6666"/>
<rect x="898" y="1114.8" width="4" height="123" fill="#FF6666"/>
<rect x="902" y="1146.8" width="4" height="91" fill="#FF6666"/>
<rect x="906" y="1090.8" width="4" height="147" fill="#FF6666"/>
<rect x="910" y="1157.8" width="4" height="80" fill="#66B366"/>
<rect x="914" y="1143.8" width="4" height="94" fill="#66B366"/>
<rect x="927" y="1178.8" width="3" height="59" fill="#66B366"/>
<rect x="931" y="1129.8" width="3" height="108" fill="#FF6666"/>
<rect x="935" y="1151.8" width="3" height="86" fill="#66B366"/>
<rect x="939" y="1157.8" width="3" height="80" fill="#66B366"/>
<rect x="943" y="1134.8" width="3" height="103" fill="#FF6666"/>
<rect x="955" y="1173.8" width="3" height="64" fill="#FF6666"/>
<rect x="959" y="1175.8" width="3" height="62" fill="#FF6666"/>
<rect x="963" y="1141.8" width="3" height="96" fill="#66B366"/>
<rect x="967" y="1038.8" width="3" height="199" fill="#FF6666"/>
<rect x="971" y="1078.8" width="3" height="159" fill="#FF6666"/>
<rect x="983" y="1143.8" width="3" height="94" fill="#66B366"/>
<rect x="987" y="1136.8" width="4" height="101" fill="#66B366"/>
<rect x="991" y="1162.8" width="4" height="75" fill="#FF6666"/>
<rect x="995" y="1162.8" width="4" height="75" fill="#66B366"/>
<rect x="999" y="1149.8" width="4" height="88" fill="#FF6666"/>
<rect x="1012" y="1153.8" width="3" height="84" fill="#FF6666"/>
<rect x="1016" y="1122.8" width="3" height="115" fill="#66B366"/>
<rect x="1020" y="1040.8" width="3" height="197" fill="#FF6666"/>
<rect x="1024" y="1060.8" width="3" height="177" fill="#FF6666"/>
<rect x="1028" y="1166.8" width="3" height="71" fill="#66B366"/>
<rect x="1040" y="1130.8" width="3" height="107" fill="#FF6666"/>
<rect x="1044" y="1174.8" width="3" height="63" fill="#66B366"/>
<rect x="1048" y="1052.8" width="3" height="185" fill="#66B366"/>
<rect x="1052" y="1152.8" width="3" height="85" fill="#66B366"/>
<rect x="1056" y="1178.8" width="3" height="59" fill="#66B366"/>
<rect x="1068" y="1149.8" width="3" height="88" fill="#FF6666"/>
<rect x="1072" y="1151.8" width="3" height="86" fill="#FF6666"/>
<rect x="1076" y="1171.8" width="4" height="66" fill="#66B366"/>
<rect x="1080" y="1171.8" width="4" height="66" fill="#FF6666"/>
<rect x="1084" y="1183.8" width="4" height="54" fill="#66B366"/>
<rect x="1096" y="1169.8" width="4" height="68" fill="#66B366"/>
<rect x="1101" y="1140.8" width="3" height="97" fill="#FF6666"/>
<rect x="1105" y="1159.8" width="3" height="78" fill="#FF6666"/>
<rect x="1109" y="1133.8" width="3" height="104" fill="#FF6666"/>
<rect x="1113" y="1093.8" width="3" height="144" fill="#66B366"/>
<rect x="1125" y="1112.8" width="3" height="125" fill="#FF6666"/>
<rect x="1129" y="1170.8" width="3" height="67" fill="#66B366"/>
<rect x="1133" y="1157.8" width="3" height="80" fill="#FF6666"/>
<rect x="1137" y="1126.8" width="3" height="111" fill="#66B366"/>
<rect x="1141" y="1036.8" width="3" height="201" fill="#66B366"/>
<rect x="1153" y="1067.8" width="3" height="170" fill="#FF6666"/>
<rect x="1157" y="1151.8" width="3" height="86" fill="#66B366"/>
<rect x="1161" y="1136.8" width="3" height="101" fill="#66B366"/>
<rect x="1165" y="1153.8" width="3" height="84" fill="#FF6666"/>
<rect x="1169" y="1133.8" width="4" height="104" fill="#66B366"/>
<rect x="1181" y="1163.8" width="4" height="74" fill="#66B366"/>
<rect x="1185" y="1081.8" width="4" height="156" fill="#FF6666"/>
<rect x="1190" y="1148.8" width="3" height="89" fill="#66B366"/>
<rect x="1194" y="1135.8" width="3" height="102" fill="#66B366"/>
<rect x="1198" y="1184.8" width="3" height="53" fill="#FF6666"/>
<rect x="1210" y="1181.8" width="3" height="56" fill="#FF6666"/>
<rect x="1214" y="1159.8" width="3" height="78" fill="#FF6666"/>
<rect x="1218" y="1116.8" width="3" height="121" fill="#FF6666"/>
<rect x="1222" y="1131.8" width="3" height="106" fill="#66B366"/>
<rect x="1226" y="1168.8" width="3" height="69" fill="#66B366"/>
<rect x="1238" y="1190.8" width="3" height="47" fill="#66B366"/>
<rect x="1242" y="1181.8" width="3" height="56" fill="#66B366"/>
<rect x="1246" y="1185.8" width="3" height="52" fill="#FF6666"/>
<rect x="1250" y="1135.8" width="3" height="102" fill="#66B366"/>
<rect x="1254" y="1173.8" width="3" height="64" fill="#66B366"/>
<rect x="1266" y="1149.8" width="4" height="88" fill="#66B366"/>
<rect x="1270" y="1117.8" width="4" height="120" fill="#66B366"/>
<rect x="1274" y="1175.8" width="4" height="62" fill="#FF6666"/>
<rect x="1278" y="1180.8" width="4" height="57" fill="#66B366"/>
<rect x="1283" y="1111.8" width="3" height="126" fill="#FF6666"/>
<rect x="1295" y="1104.8" width="3" height="133" fill="#FF6666"/>
<rect x="1299" y="1182.8" width="3" height="55" fill="#66B366"/>
<rect x="1335" y="1143.8" width="3" height="94" fill="#66B366"/>
<rect x="1339" y="1147.8" width="3" height="90" fill="#FF6666"/>
<rect x="1351" y="1144.8" width="4" height="93" fill="#66B366"/>
<rect x="1355" y="998.8" width="4" height="239" fill="#FF6666"/>
<rect x="1359" y="1064.8" width="4" height="173" fill="#FF6666"/>
<rect x="1363" y="1050.8" width="4" height="187" fill="#FF6666"/>
<rect x="1367" y="1083.8" width="4" height="154" fill="#66B366"/>
<rect x="1380" y="1121.8" width="3" height="116" fill="#FF6666"/>
<rect x="1384" y="1128.8" width="3" height="109" fill="#FF6666"/>
<rect x="1388" y="1137.8" width="3" height="100" fill="#66B366"/>
<rect x="1392" y="1094.8" width="3" height="143" fill="#FF6666"/>
<rect x="1396" y="1115.8" width="3" height="122" fill="#FF6666"/>
<rect x="1408" y="1133.8" width="3" height="104" fill="#FF6666"/>
<rect x="1412" y="1149.8" width="3" height="88" fill="#66B366"/>
<rect x="1416" y="1153.8" width="3" height="84" fill="#FF6666"/>
<rect x="1420" y="1136.8" width="3" height="101" fill="#66B366"/>
<rect x="1424" y="1158.8" width="3" height="79" fill="#66B366"/>
<rect x="1436" y="1132.8" width="3" height="105" fill="#FF6666"/>
<rect x="1440" y="1083.8" width="4" height="154" fill="#FF6666"/>
<rect x="1444" y="1144.8" width="4" height="93" fill="#66B366"/>
<rect x="1448" y="1169.8" width="4" height="68" fill="#FF6666"/>
<rect x="1452" y="1156.8" width="4" height="81" fill="#66B366"/>
<rect x="1465" y="1158.8" width="3" height="79" fill="#FF6666"/>
<rect x="1469" y="1172.8" width="3" height="65" fill="#FF6666"/>
<rect x="1473" y="1151.8" width="3" height="86" fill="#FF6666"/>
<rect x="1477" y="1126.8" width="3" height="111" fill="#FF6666"/>
<rect x="1481" y="1162.8" width="3" height="75" fill="#66B366"/>
<rect x="1493" y="1157.8" width="3" height="80" fill="#66B366"/>
<rect x="1497" y="1151.8" width="3" height="86" fill="#66B366"/>
<rect x="1501" y="1133.8" width="3" height="104" fill="#FF6666"/>
<rect x="1505" y="1110.8" width="3" height="127" fill="#FF6666"/>
<rect x="1509" y="1056.8" width="3" height="181" fill="#66B366"/>
<rect x="1521" y="1152.8" width="3" height="85" fill="#FF6666"/>
<rect x="1525" y="1162.8" width="3" height="75" fill="#FF6666"/>
<rect x="1529" y="1158.8" width="4" height="79" fill="#66B366"/>
<rect x="1533" y="1093.8" width="4" height="144" fill="#FF6666"/>
<rect x="1537" y="1148.8" width="4" height="89" fill="#66B366"/>
<rect x="1549" y="1112.8" width="4" height="125" fill="#66B366"/>
<rect x="1554" y="1063.8" width="3" height="174" fill="#FF6666"/>
<rect x="1558" y="1120.8" width="3" height="117" fill="#66B366"/>
<rect x="1562" y="1143.8" width="3" height="94" fill="#FF6666"/>
<rect x="1566" y="1097.8" width="3" height="140" fill="#FF6666"/>
<rect x="1578" y="1095.8" width="3" height="142" fill="#66B366"/>
<rect x="1582" y="1149.8" width="3" height="88" fill="#66B366"/>
<rect x="1586" y="1119.8" width="3" height="118" fill="#66B366"/>
<rect x="1590" y="1152.8" width="3" height="85" fill="#FF6666"/>
<rect x="1594" y="1125.8" width="3" height="112" fill="#FF6666"/>
<rect x="1606" y="1084.8" width="3" height="153" fill="#FF6666"/>
<rect x="1610" y="1111.8" width="3" height="126" fill="#66B366"/>
<rect x="1614" y="1100.8" width="3" height="137" fill="#FF6666"/>
<rect x="1618" y="1102.8" width="3" height="135" fill="#FF6666"/>
<rect x="1622" y="1080.8" width="4" height="157" fill="#FF6666"/>
<rect x="1634" y="1116.8" width="4" height="121" fill="#66B366"/>
<rect x="1638" y="1096.8" width="4" height="141" fill="#FF6666"/>
<rect x="1643" y="1135.8" width="3" height="102" fill="#66B366"/>
<g class="grid">
<line x1="200.0" y1="1237.8" x2="200.0" y2="987.0"/>
<line x1="439.0" y1="1237.8" x2="439.0" y2="987.0"/>
<line x1="686.0" y1="1237.8" x2="686.0" y2="987.0"/>
<line x1="932.0" y1="1237.8" x2="932.0" y2="987.0"/>
<line x1="1183.0" y1="1237.8" x2="1183.0" y2="987.0"/>
<line x1="1430.0" y1="1237.8" x2="1430.0" y2="987.0"/>
<line x1="1677.0" y1="1237.8" x2="1677.0" y2="987.0"/>
<line x1="92.0" y1="1192.0" x2="1720.0" y2="1192.0"/>
<line x1="92.0" y1="1147.0" x2="1720.0" y2="1147.0"/>
<line x1="92.0" y1="1102.0" x2="1720.0" y2="1102.0"/>
<line x1="92.0" y1="1056.0" x2="1720.0" y2="1056.0"/>
<line x1="92.0" y1="1011.0" x2="1720.0" y2="1011.0"/>
</g>
<path class="sp" d="M92.0,987.0 V1237.8 H1720.0"/>
<line class="tk" x1="200.0" y1="1237.8" x2="200.0" y2="1244.9"/>
<text transform="translate(197.0,1284.5) rotate(-45)" style="font-size:19px"><tspan x="-35.6" y="6.8" textLength="41.2" lengthAdjust="spacingAndGlyphs">2025</tspan><tspan x="5.6" y="5.3" textLength="11" lengthAdjust="spacingAndGlyphs">-</tspan><tspan x="16.4" y="6.8" textLength="20.4" lengthAdjust="spacingAndGlyphs">01</tspan></text>
<line class="tk" x1="439.0" y1="1237.8" x2="439.0" y2="1244.9"/>
<text transform="translate(436.0,1284.5) rotate(-45)" style="font-size:19px"><tspan x="-35.6" y="6.8" textLength="41.2" lengthAdjust="spacingAndGlyphs">2025</tspan><tspan x="5.6" y="5.3" textLength="11" lengthAdjust="spacingAndGlyphs">-</tspan><tspan x="16.4" y="6.8" textLength="20.4" lengthAdjust="spacingAndGlyphs">03</tspan></text>
<line class="tk" x1="686.0" y1="1237.8" x2="686.0" y2="1244.9"/>
<text transform="translate(683.0,1284.5) rotate(-45)" style="font-size:19px"><tspan x="-35.6" y="6.8" textLength="41.2" lengthAdjust="spacingAndGlyphs">2025</tspan><tspan x="5.6" y="5.3" textLength="11" lengthAdjust="spacingAndGlyphs">-</tspan><tspan x="16.4" y="6.8" textLength="20.4" lengthAdjust="spacingAndGlyphs">05</tspan></text>
<line class="tk" x1="932.0" y1="1237.8" x2="932.0" y2="1244.9"/>
<text transform="translate(929.0,1284.5) rotate(-45)" style="font-size:19px"><tspan x="-35.6" y="6.8" textLength="41.2" lengthAdjust="spacingAndGlyphs">2025</tspan><tspan x="5.6" y="5.3" textLength="11" lengthAdjust="spacingAndGlyphs">-</tspan><tspan x="16.4" y="6.8" textLength="20.4" lengthAdjust="spacingAndGlyphs">07</tspan></text>
<line class="tk" x1="1183.0" y1="1237.8" x2="1183.0" y2="1244.9"/>
<text transform="translate(1180.0,1284.5) rotate(-45)" style="font-size:19px"><tspan x="-35.6" y="6.8" textLength="41.2" lengthAdjust="spacingAndGlyphs">2025</tspan><tspan x="5.6" y="5.3" textLength="11" lengthAdjust="spacingAndGlyphs">-</tspan><tspan x="16.4" y="6.8" textLength="20.4" lengthAdjust="spacingAndGlyphs">09</tspan></text>
<line class="tk" x1="1430.0" y1="1237.8" x2="1430.0" y2="1244.9"/>
<text transform="translate(1427.0,1284.5) rotate(-45)" style="font-size:19px"><tspan x="-35.6" y="6.8" textLength="41.2" lengthAdjust="spacingAndGlyphs">2025</tspan><tspan x="5.6" y="5.3" textLength="11" lengthAdjust="spacingAndGlyphs">-</tspan><tspan x="16.4" y="6.8" textLength="20.4" lengthAdjust="spacingAndGlyphs">11</tspan></text>
<line class="tk" x1="1677.0" y1="1237.8" x2="1677.0" y2="1244.9"/>
<text transform="translate(1674.0,1284.5) rotate(-45)" style="font-size:19px"><tspan x="-35.6" y="6.8" textLength="41.2" lengthAdjust="spacingAndGlyphs">2026</tspan><tspan x="5.6" y="5.3" textLength="11" lengthAdjust="spacingAndGlyphs">-</tspan><tspan x="16.4" y="6.8" textLength="20.4" lengthAdjust="spacingAndGlyphs">01</tspan></text>
<line class="tk" x1="84.9" y1="1237.8" x2="92.0" y2="1237.8"/>
<text style="font-size:22px" x="66.3" y="1246.0" textLength="11.2" lengthAdjust="spacingAndGlyphs">0</text>
<line class="tk" x1="84.9" y1="1192.0" x2="92.0" y2="1192.0"/>
<text style="font-size:22px" x="66.3" y="1200.2" textLength="11.2" lengthAdjust="spacingAndGlyphs">1</text>
<line class="tk" x1="84.9" y1="1147.0" x2="92.0" y2="1147.0"/>
<text style="font-size:22px" x="66.3" y="1155.2" textLength="11.2" lengthAdjust="spacingAndGlyphs">2</text>
<line class="tk" x1="84.9" y1="1102.0" x2="92.0" y2="1102.0"/>
<text style="font-size:22px" x="66.3" y="1110.2" textLength="11.2" lengthAdjust="spacingAndGlyphs">3</text>
<line class="tk" x1="84.9" y1="1056.0" x2="92.0" y2="1056.0"/>
<text style="font-size:22px" x="66.3" y="1064.2" textLength="11.2" lengthAdjust="spacingAndGlyphs">4</text>
<line class="tk" x1="84.9" y1="1011.0" x2="92.0" y2="1011.0"/>
<text style="font-size:22px" x="66.3" y="1019.2" textLength="11.2" lengthAdjust="spacingAndGlyphs">5</text>
<text style="font-size:21.5px" x="93.2" y="980.6" textLength="30.2" lengthAdjust="spacingAndGlyphs">1e8</text>
<text class="t20" transform="translate(48.2,1114.3) rotate(-90)" text-anchor="middle" y="7.5">成交量</text>
</svg></body></html>
